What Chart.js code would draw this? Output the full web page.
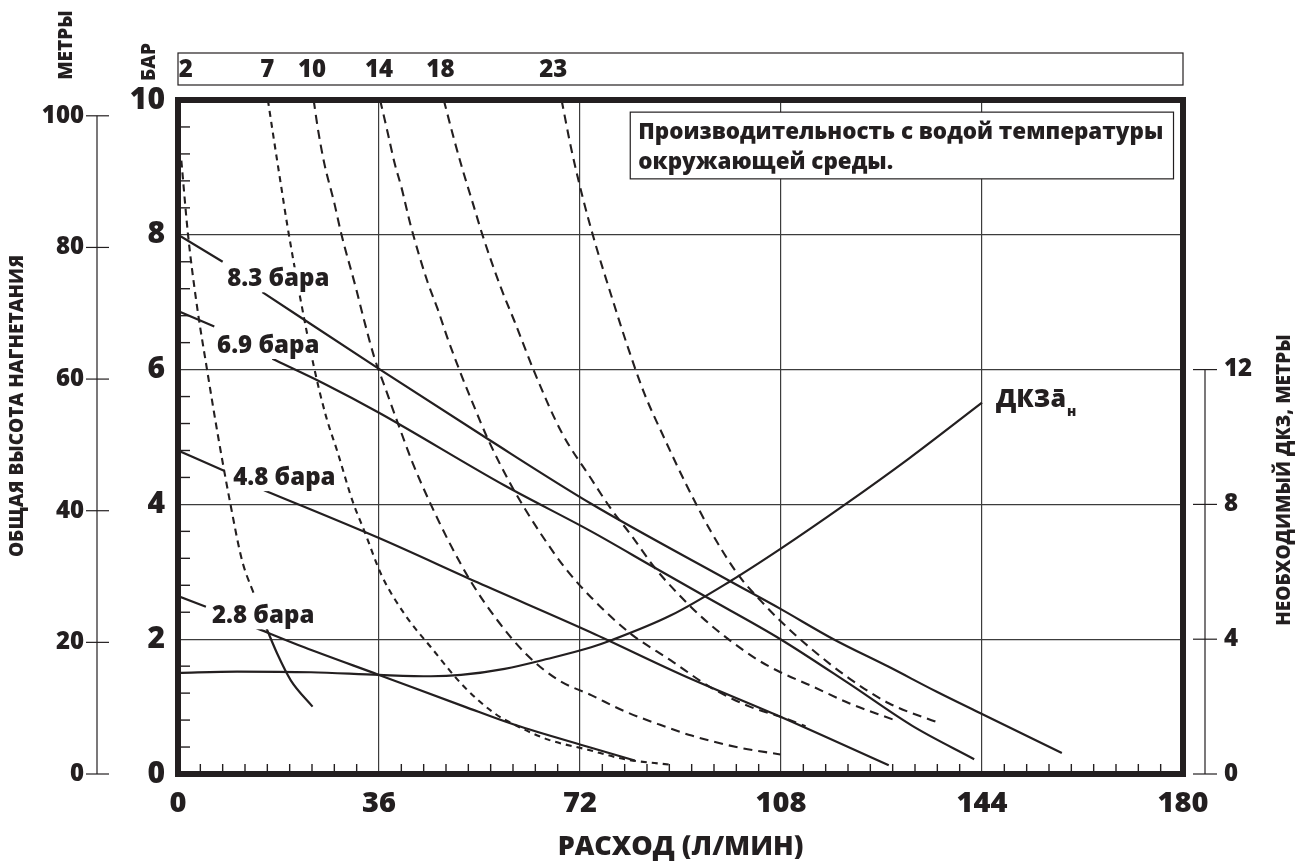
<!DOCTYPE html>
<html>
<head>
<meta charset="utf-8">
<script src="https://cdn.jsdelivr.net/npm/chart.js@4.4.1/dist/chart.umd.min.js"></script>
<style>
  html, body { margin: 0; padding: 0; background: #fff; }
</style>
</head>
<body>
<canvas id="pumpChart" width="1295" height="864"></canvas>
<script>
// --- values: flow in l/min, head in bar ---
const flowTicks = [0, 36, 72, 108, 144, 180];
const barTicks = [0, 2, 4, 6, 8, 10];
const meterTicks = [0, 20, 40, 60, 80, 100];
const npshTicks = [0, 4, 8, 12];

// air pressure curves (solid); a null head leaves room for the label
const head83 = [[0, 8.0], [8, 7.6], [11, null], [15.1, 7.15], [36, 6.01], [55.5, 4.97], [74, 4.01], [98.9, 2.86],
  [107.9, 2.45], [117.4, 2.0], [127.3, 1.59], [135.9, 1.22], [144, 0.89], [158.3, 0.31]];
const head69 = [[0, 6.87], [6.5, 6.64], [11, null], [16.9, 6.16], [26.2, 5.79], [36, 5.36], [58.5, 4.28], [74, 3.6],
  [85.4, 3.06], [94.3, 2.64], [107.9, 2.0], [120.2, 1.34], [131.6, 0.71], [142.6, 0.22]];
const head48 = [[0, 4.8], [8.25, 4.5], [11, null], [15.4, 4.21], [36, 3.5], [53.7, 2.84], [74, 2.1], [90.3, 1.47],
  [107.9, 0.85], [127.3, 0.13]];
const head28 = [[0, 2.64], [5, 2.48], [9, null], [13.3, 2.19], [22.6, 1.88], [36, 1.47], [51.3, 1.0], [60.3, 0.73],
  [74, 0.39], [81.8, 0.2]];

// required NPSH, metres (right axis)
const npshFlow = [0, 10.6, 23.8, 36, 45.3, 50.7, 58.5, 66.3, 74, 77.5, 88.2, 98.9, 107.9, 119.5, 130.9, 144];
const npshMeters = [3.0, 3.04, 3.02, 2.94, 2.9, 2.94, 3.12, 3.42, 3.76, 3.96, 4.7, 5.72, 6.68, 8.0, 9.36, 11.02];

// air consumption curves (dashed)
const air2 = [[0.6, 9.1], [1.8, 8.0], [3.3, 7.0], [5.2, 6.0], [7.2, 5.0], [9.4, 4.0], [11.5, 3.16], [13.6, 2.67]];
const air2tail = [[15.7, 2.19], [17.8, 1.78], [20.2, 1.39], [24.1, 1.0]];
const air7 = [[16.1, 10], [17.2, 9.4], [18.4, 8.76], [19.6, 8.13], [21.7, 7.15], [24.4, 6.02], [26.5, 5.31], [28.6, 4.77],
  [31.3, 4.04], [33.4, 3.6], [36.4, 2.96], [40.6, 2.37], [45.3, 1.88], [51.3, 1.29], [56.7, 0.9], [60.3, 0.73],
  [66.3, 0.51], [73.4, 0.36], [80, 0.22], [87.9, 0.14]];
const air10 = [[24.3, 10], [25, 9.6], [26.2, 9.06], [28, 8.47], [29.2, 8.03], [31.9, 7.2], [33.4, 6.71], [35.2, 6.17],
  [36.8, 5.8], [39.4, 5.2], [42, 4.62], [45, 4.05], [48.5, 3.45], [52.5, 2.85], [57.3, 2.27], [62.1, 1.8],
  [68, 1.4], [74, 1.17], [80, 0.93], [86, 0.74], [92, 0.57], [100, 0.4], [107.9, 0.29]];
const air14 = [[36.2, 10], [37.6, 9.5], [38.8, 9.06], [40, 8.71], [41.7, 8.13], [44.7, 7.3], [46.5, 6.9], [48.3, 6.46],
  [50.7, 5.93], [52.5, 5.56], [55.5, 4.97], [59.7, 4.28], [62.1, 3.94], [65.1, 3.55], [69.3, 3.06], [74, 2.62],
  [81.1, 2.08], [88.2, 1.69], [95.3, 1.29], [102.4, 1.0], [107.9, 0.85], [112.4, 0.71]];
const air18 = [[47.6, 10], [49.5, 9.4], [51, 8.96], [52.8, 8.47], [54.6, 7.98], [57.9, 7.2], [60.3, 6.71], [63.9, 5.95],
  [68.7, 5.07], [74, 4.38], [77.5, 3.94], [81.1, 3.55], [85.4, 3.06], [89.6, 2.67], [93.9, 2.32], [98.9, 1.98],
  [103.9, 1.69], [107.9, 1.51], [113.1, 1.32], [120.2, 1.05], [128, 0.81]];
const air23 = [[68.7, 10], [70.5, 9.25], [72.5, 8.55], [74.7, 7.88], [77.6, 7.1], [80.5, 6.35], [83.5, 5.65], [87, 5.0],
  [91, 4.3], [95.3, 3.62], [100.3, 2.96], [104.6, 2.55], [107.9, 2.27], [113.1, 1.88], [120.2, 1.42], [127.3, 1.05],
  [136.2, 0.76]];

// labels of the air curves in the strip above the plot
const airNames = ['2', '7', '10', '14', '18', '23'];
const airNameFlow = [1.4, 16, 24, 36, 47, 67.2];

// pressure labels: text, flow at left edge, head at middle
const curveNames = ['8.3 бара', '6.9 бара', '4.8 бара', '2.8 бара'];
const curveNameFlow = [8.8, 7.0, 9.9, 6.1];
const curveNameHead = [7.34, 6.35, 4.39, 2.34];

const ink = '#231f20';
const family = "'Open Sans', 'Noto Sans', sans-serif";
const heavy = 800;
const bold = size => ({ family: family, weight: heavy, size: size });
const fontStr = size => heavy + ' ' + size + 'px ' + family;

const pts = arr => arr.map(p => ({ x: p[0], y: p[1] }));

const solid = (data, axis) => ({
    data: data, yAxisID: axis || 'y', showLine: true, borderColor: ink, borderWidth: 2.2,
    pointRadius: 0, cubicInterpolationMode: 'monotone', spanGaps: false
});
const dashed = data => Object.assign(solid(data), { borderDash: [9, 6], borderWidth: 2.1 });

const datasets = [
    solid(pts(head83)), solid(pts(head69)), solid(pts(head48)), solid(pts(head28)),
    solid(npshFlow.map((f, i) => ({ x: f, y: npshMeters[i] })), 'y2'),
    Object.assign(dashed(pts(air2)), { borderDash: [7, 5] }),
    solid(pts(air2tail)),
    Object.assign(dashed(pts(air7)), { borderDash: [6, 5] }),
    dashed(pts(air10)), dashed(pts(air14)), dashed(pts(air18)), dashed(pts(air23))
];

const fixedTicks = list => scale => { scale.ticks = list.map(v => ({ value: v })); };

function line(ctx, x1, y1, x2, y2) {
    ctx.beginPath();
    ctx.moveTo(x1, y1);
    ctx.lineTo(x2, y2);
    ctx.stroke();
}

function vText(ctx, text, cx, cy, size) {
    ctx.save();
    ctx.translate(cx, cy);
    ctx.rotate(-Math.PI / 2);
    ctx.font = fontStr(size);
    ctx.textAlign = 'center';
    ctx.textBaseline = 'middle';
    ctx.fillText(text, 0, 0);
    ctx.restore();
}

const decor = {
    id: 'decor',
    afterDatasetsDraw(chart) {
        const { ctx, chartArea: a, scales } = chart;
        const x = scales.x, y = scales.y, yM = scales.yM, y2 = scales.y2;
        ctx.save();
        ctx.fillStyle = ink;
        ctx.strokeStyle = ink;

        // pressure labels, with the lines knocked out behind them
        ctx.font = fontStr(24);
        ctx.textBaseline = 'middle';
        ctx.textAlign = 'left';
        curveNames.forEach((t, i) => {
            const px = x.getPixelForValue(curveNameFlow[i]);
            const py = y.getPixelForValue(curveNameHead[i]);
            const w = ctx.measureText(t).width;
            ctx.fillStyle = '#fff';
            ctx.fillRect(px - 3, py - 12, w + 6, 25);
            ctx.fillStyle = ink;
            ctx.fillText(t, px, py);
        });

        // NPSH label
        const nx = x.getPixelForValue(146.5), ny = y.getPixelForValue(5.55);
        ctx.font = fontStr(25);
        ctx.fillText('ДКЗā', nx, ny);
        const nw = ctx.measureText('ДКЗā').width;
        ctx.font = fontStr(14);
        ctx.fillText('н', nx + nw + 1, ny + 12);

        // note box
        const bx1 = x.getPixelForValue(81), bx2 = x.getPixelForValue(178.3);
        const by1 = y.getPixelForValue(9.82), by2 = y.getPixelForValue(8.83);
        ctx.fillStyle = '#fff';
        ctx.fillRect(bx1, by1, bx2 - bx1, by2 - by1);
        ctx.lineWidth = 1.2;
        ctx.strokeRect(bx1, by1, bx2 - bx1, by2 - by1);
        ctx.fillStyle = ink;
        ctx.font = fontStr(22.4);
        ctx.fillText('Производительность с водой температуры', bx1 + 8, by1 + 20);
        ctx.fillText('окружающей среды.', bx1 + 8, by1 + 50);

        // inner minor ticks
        ctx.lineWidth = 1.4;
        for (let i = 1; i < 25; i++) {
            if (i % 5 === 0) continue;
            const py = y.getPixelForValue(i * 0.4);
            line(ctx, a.left, py, a.left + 12, py);
        }
        for (let i = 1; i < 45; i++) {
            if (i % 9 === 0) continue;
            const px = x.getPixelForValue(i * 4);
            line(ctx, px, a.bottom, px, a.bottom - 10);
        }

        // frame
        ctx.lineWidth = 6;
        ctx.lineJoin = 'miter';
        ctx.strokeRect(a.left, a.top, a.right - a.left, a.bottom - a.top);

        // metres axis on the left
        ctx.lineWidth = 1.2;
        const mx = yM.right - 13;
        line(ctx, mx, yM.getPixelForValue(0), mx, yM.getPixelForValue(100));
        meterTicks.forEach(v => {
            const py = yM.getPixelForValue(v);
            line(ctx, mx - 11, py, mx + 12, py);
        });

        // NPSH axis on the right
        const rx = y2.left + 22;
        line(ctx, rx, y2.getPixelForValue(0), rx, y2.getPixelForValue(12));
        npshTicks.forEach(v => {
            const py = y2.getPixelForValue(v);
            line(ctx, rx - 12, py, rx + 12, py);
        });

        // air consumption strip
        ctx.strokeRect(a.left, 53, a.right - a.left, 32);
        ctx.font = fontStr(24);
        ctx.textAlign = 'center';
        airNames.forEach((t, i) => {
            ctx.fillText(t, x.getPixelForValue(airNameFlow[i]), 70);
        });

        // rotated titles
        vText(ctx, 'МЕТРЫ', 67, 45, 19);
        vText(ctx, 'БАР', 150, 62, 19);
        vText(ctx, 'ОБЩАЯ ВЫСОТА НАГНЕТАНИЯ', 18, 406, 19);
        vText(ctx, 'НЕОБХОДИМЫЙ ДКЗ, МЕТРЫ', 1285, 480, 19);
        ctx.restore();
    }
};

new Chart(document.getElementById('pumpChart'), {
    type: 'scatter',
    data: { datasets: datasets },
    options: {
        responsive: false,
        animation: false,
        layout: { padding: { top: 100, right: 0, bottom: 0, left: 0 } },
        plugins: { legend: { display: false }, tooltip: { enabled: false } },
        scales: {
            x: {
                type: 'linear', position: 'bottom', min: 0, max: 180,
                afterBuildTicks: fixedTicks(flowTicks),
                afterFit: s => { s.height = 90; },
                grid: { color: '#3c3c3c', lineWidth: 1.2, drawTicks: false },
                border: { display: false },
                ticks: { color: ink, font: bold(29), padding: 12, maxRotation: 0 },
                title: { display: true, text: 'РАСХОД (Л/МИН)', color: ink, font: bold(27), padding: { top: 0, bottom: 0 } }
            },
            y: {
                type: 'linear', position: 'left', weight: 0, min: 0, max: 10,
                afterBuildTicks: fixedTicks(barTicks),
                afterFit: s => { s.width = 68; },
                grid: { color: '#3c3c3c', lineWidth: 1.2, drawTicks: false },
                border: { display: false },
                ticks: { color: ink, font: bold(30), padding: 13 }
            },
            yM: {
                type: 'linear', position: 'left', weight: 1, min: 0, max: 102.4,
                afterBuildTicks: fixedTicks(meterTicks),
                afterFit: s => { s.width = 110; },
                grid: { display: false, drawTicks: false },
                border: { display: false },
                ticks: { color: ink, font: bold(24), padding: 26 }
            },
            y2: {
                type: 'linear', position: 'right', min: 0, max: 20,
                afterBuildTicks: fixedTicks(npshTicks),
                afterFit: s => { s.width = 112; },
                grid: { display: false, drawTicks: false },
                border: { display: false },
                ticks: { color: ink, font: bold(24), padding: 41 }
            }
        }
    },
    plugins: [decor]
});
</script>
</body>
</html>
